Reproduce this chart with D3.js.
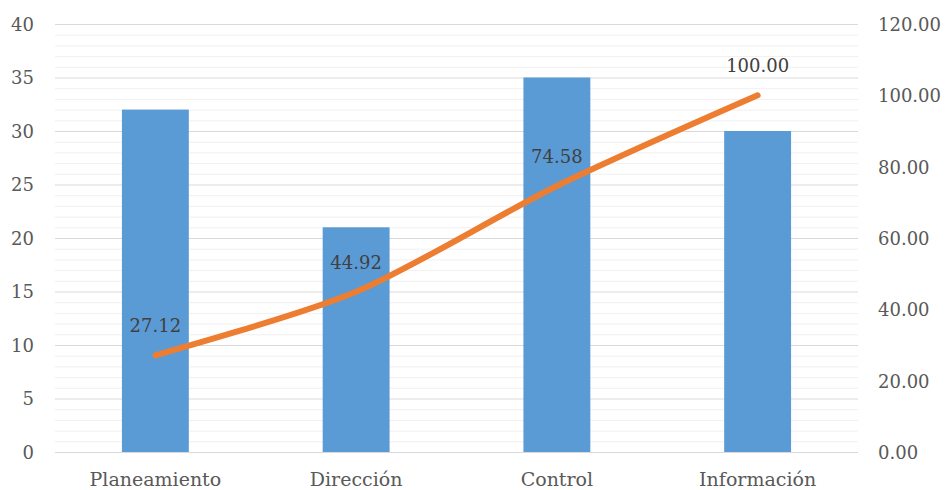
<!DOCTYPE html>
<html><head><meta charset="utf-8">
<script src="https://cdn.jsdelivr.net/npm/d3@7"></script>
<style>body{margin:0;background:#fff}svg{display:block}</style>
</head><body>
<svg id="c" width="945" height="490"></svg>
<script>
const categories = ["Planeamiento", "Dirección", "Control", "Información"];
const counts = [32, 21, 35, 30];
const cumulativePct = [27.12, 44.92, 74.58, 100.00];
const leftTicks = [0, 5, 10, 15, 20, 25, 30, 35, 40];
const rightTicks = [0, 20, 40, 60, 80, 100, 120];

const svg = d3.select("#c");
const L = 55, R = 858, T = 24, B = 452;
const FONT = "DejaVu Serif, serif";

const x = d3.scaleBand().domain(categories).range([L, R]).padding(0);
const yL = d3.scaleLinear().domain([0, 40]).range([B, T]);
const yR = d3.scaleLinear().domain([0, 120]).range([B, T]);

svg.append("g").selectAll("line").data(d3.range(0, 41, 1).filter(v => v % 5 !== 0))
  .join("line").attr("x1", L).attr("x2", R)
  .attr("y1", d => yL(d) + 0.5).attr("y2", d => yL(d) + 0.5)
  .attr("stroke", "#f0f0f0").attr("stroke-width", 1);
svg.append("g").selectAll("line").data(leftTicks.filter(v => v > 0))
  .join("line").attr("x1", L).attr("x2", R)
  .attr("y1", d => yL(d) + 0.5).attr("y2", d => yL(d) + 0.5)
  .attr("stroke", "#d9d9d9").attr("stroke-width", 1);

const bw = x.bandwidth() / 3;
svg.append("g").selectAll("rect").data(categories)
  .join("rect")
  .attr("x", (d) => x(d) + x.bandwidth() / 2 - bw / 2)
  .attr("width", bw)
  .attr("y", (d, i) => yL(counts[i]))
  .attr("height", (d, i) => B - yL(counts[i]))
  .attr("fill", "#5B9BD5");

svg.append("line").attr("x1", L).attr("x2", R).attr("y1", B + 0.5).attr("y2", B + 0.5)
  .attr("stroke", "#d9d9d9").attr("stroke-width", 1);

const axL = svg.append("g").attr("transform", `translate(${L - 21},0)`)
  .call(d3.axisLeft(yL).tickValues(leftTicks).tickSize(0).tickPadding(0));
axL.select(".domain").remove();
axL.selectAll("text").style("font-family", FONT).attr("font-size", 18).attr("fill", "#595959").attr("dy", "0.36em");

const axR = svg.append("g").attr("transform", `translate(${R + 20},0)`)
  .call(d3.axisRight(yR).tickValues(rightTicks).tickSize(0).tickPadding(0).tickFormat(d3.format(".2f")));
axR.select(".domain").remove();
axR.selectAll("text").style("font-family", FONT).attr("font-size", 18).attr("fill", "#595959").attr("dy", "0.36em");

const axB = svg.append("g").attr("transform", `translate(0,${B})`)
  .call(d3.axisBottom(x).tickSize(0).tickPadding(0));
axB.select(".domain").remove();
axB.selectAll("text").style("font-family", FONT).attr("font-size", 19).attr("fill", "#595959")
  .attr("dy", null).attr("y", 34);

const cx = d => x(d) + x.bandwidth() / 2;
const line = d3.line().x((d, i) => cx(categories[i])).y(d => yR(d)).curve(d3.curveCardinal.tension(0.2));
svg.append("path").datum(cumulativePct).attr("d", line)
  .attr("fill", "none").attr("stroke", "#ED7D31").attr("stroke-width", 6)
  .attr("stroke-linecap", "round").attr("stroke-linejoin", "round");

svg.append("g").selectAll("text").data(cumulativePct).join("text")
  .attr("x", (d, i) => cx(categories[i]))
  .attr("y", d => yR(d) - 23)
  .attr("text-anchor", "middle")
  .style("font-family", FONT)
  .attr("font-size", 18).attr("fill", "#404040")
  .text(d => d3.format(".2f")(d));
</script>
</body></html>
